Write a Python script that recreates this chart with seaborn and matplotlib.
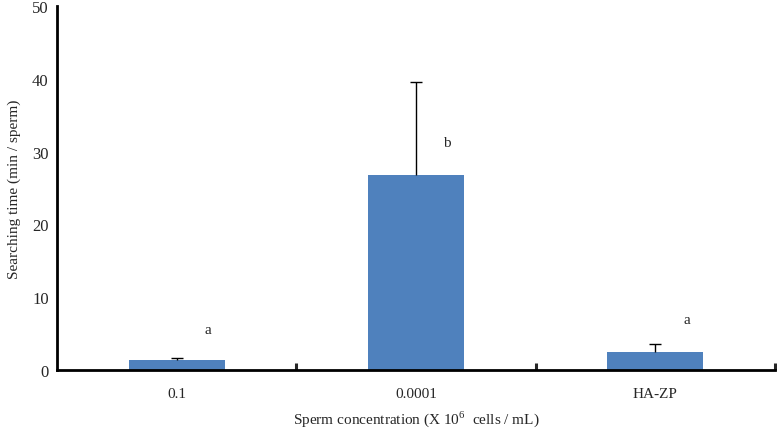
import matplotlib
matplotlib.use("Agg")
import matplotlib.pyplot as plt
import seaborn as sns
import pandas as pd

categories = ["0.1", "0.0001", "HA-ZP"]
means = [1.45, 26.8, 2.5]
errors = [0.15, 12.8, 1.15]
letters = ["a", "b", "a"]
letter_y = [5.6, 31.3, 6.9]

sns.set_style("white")
plt.rcParams['font.family'] = ['Liberation Serif', 'DejaVu Serif']
plt.rcParams['mathtext.fontset'] = 'custom'
plt.rcParams['mathtext.rm'] = 'Liberation Serif'

df = pd.DataFrame({"conc": categories, "time": means})

fig = plt.figure(figsize=(7.77, 4.31), dpi=100)
ax = fig.add_axes([0.0734, 0.139, 0.924, 0.845])

sns.barplot(data=df, x="conc", y="time", color="#4F81BD", saturation=1,
            width=0.4, errorbar=None, ax=ax, edgecolor="none")
xs = list(range(len(categories)))
eb = ax.errorbar(xs, means, yerr=[[0] * len(errors), errors], fmt="none",
                 ecolor="black", elinewidth=1, capsize=4.3, capthick=1)
eb[1][0].set_visible(False)
for x, l, y in zip(xs, letters, letter_y):
    ax.text(x + 0.13, y, l, ha="center", va="center", fontsize=11)

ax.set_xlim(-0.5, 2.5)
ax.set_ylim(0, 50)
ax.set_yticks([0, 10, 20, 30, 40, 50])
ax.tick_params(axis="y", direction="out", length=5, width=2.2, labelsize=12, pad=1)
ax.set_xticks(xs)
ax.set_xticklabels(categories)
ax.tick_params(axis="x", which="major", length=0, labelsize=11, pad=12)
ax.set_xticks([0.5, 1.5, 2.5], minor=True)
ax.tick_params(axis="x", which="minor", direction="in", length=5, width=2.2, bottom=True)

for s in ["top", "right"]:
    ax.spines[s].set_visible(False)
for s in ["left", "bottom"]:
    ax.spines[s].set_linewidth(2)
    ax.spines[s].set_color("black")

ax.set_ylabel("Searching time (min / sperm)", fontsize=11, labelpad=8)
ax.set_xlabel("Sperm concentration (X 10$^{6}$  cells / mL)", fontsize=11, labelpad=6)

fig.savefig("out.png", dpi=100)
